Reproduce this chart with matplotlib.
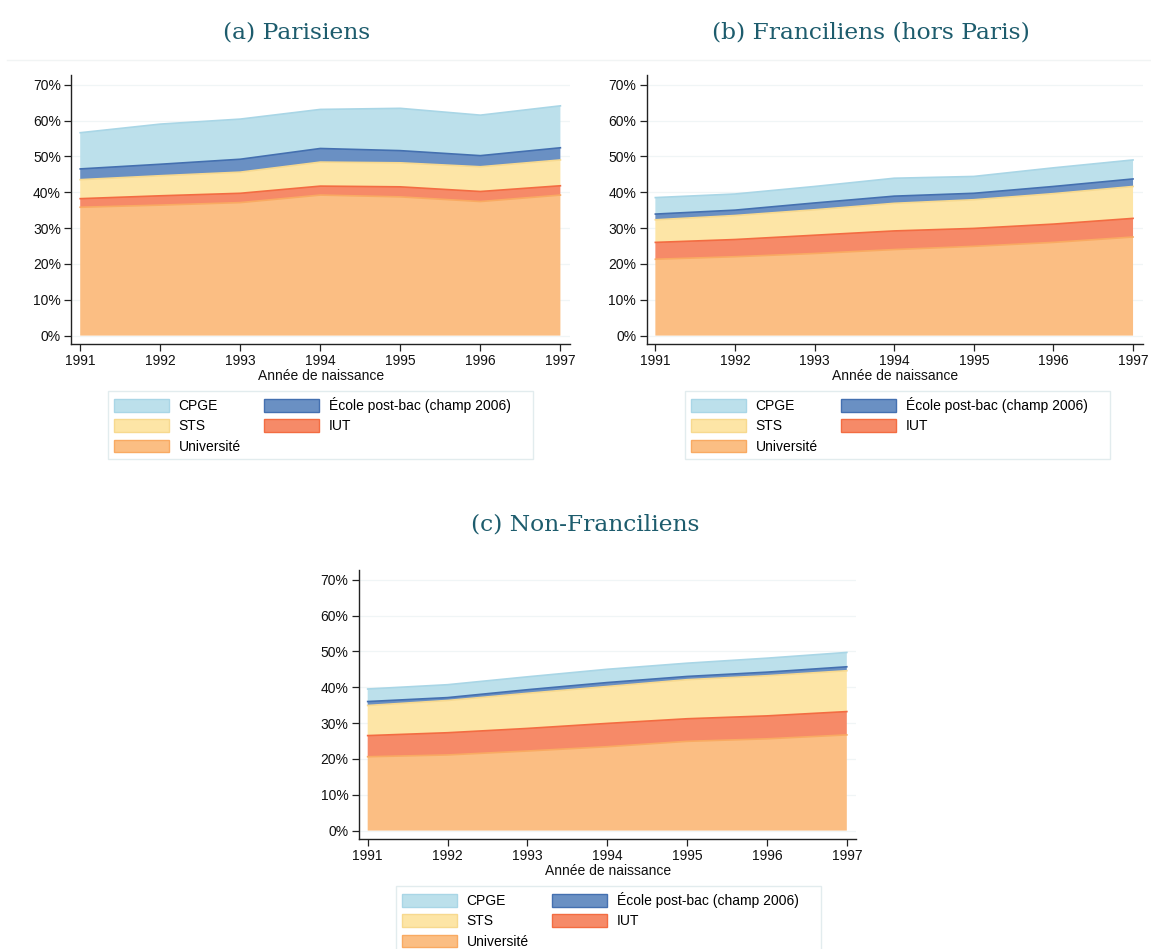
import matplotlib
matplotlib.use("Agg")
import matplotlib.pyplot as plt
from matplotlib.patches import Patch, Rectangle
from matplotlib.lines import Line2D

# ---------------- data (shares in %, stacked bottom -> top) ----------------
years = [1991, 1992, 1993, 1994, 1995, 1996, 1997]
yticks = [0, 10, 20, 30, 40, 50, 60, 70]
ytick_labels = ["0%", "10%", "20%", "30%", "40%", "50%", "60%", "70%"]

# (a) Parisiens
paris_univ = [35.8, 36.4, 37.1, 39.2, 38.7, 37.4, 39.2]
paris_iut = [2.4, 2.6, 2.6, 2.5, 2.8, 2.8, 2.6]
paris_sts = [5.3, 5.6, 5.9, 6.7, 6.7, 6.9, 7.2]
paris_ecole = [3.0, 3.2, 3.6, 3.8, 3.4, 3.1, 3.4]
paris_cpge = [10.1, 11.2, 11.2, 10.9, 11.8, 11.3, 11.7]

# (b) Franciliens (hors Paris)
idf_univ = [21.3, 22.0, 22.9, 24.0, 24.9, 26.0, 27.5]
idf_iut = [4.7, 4.8, 5.1, 5.2, 5.0, 5.1, 5.2]
idf_sts = [6.3, 6.7, 7.1, 7.7, 8.0, 8.5, 8.9]
idf_ecole = [1.6, 1.5, 1.9, 2.0, 1.8, 2.0, 2.1]
idf_cpge = [4.6, 4.5, 4.6, 5.0, 4.7, 5.2, 5.3]

# (c) Non-Franciliens
prov_univ = [20.6, 21.1, 22.2, 23.4, 24.9, 25.6, 26.7]
prov_iut = [5.9, 6.2, 6.3, 6.5, 6.3, 6.4, 6.5]
prov_sts = [8.4, 9.0, 9.8, 10.3, 10.9, 11.2, 11.4]
prov_ecole = [1.1, 0.8, 1.0, 1.1, 0.9, 1.0, 1.1]
prov_cpge = [3.5, 3.6, 3.6, 3.7, 3.7, 3.9, 4.0]

series_labels = ["Université", "IUT", "STS", "École post-bac (champ 2006)", "CPGE"]
panel_titles = ["(a) Parisiens", "(b) Franciliens (hors Paris)", "(c) Non-Franciliens"]
xlabel = "Année de naissance"

# ---------------- style ----------------
fills = ["#FBBE83", "#F68A68", "#FDE5A6", "#6A90C3", "#BCE0EB"]
edges = ["#F9AA62", "#F36C42", "#F7D98F", "#4470B0", "#A9D6E6"]
title_color = "#1D5C6D"

W, H = 1151, 949
fig = plt.figure(figsize=(W / 100, H / 100), dpi=100)
fig.patch.set_facecolor("white")
plt.rcParams["font.family"] = ["Liberation Sans", "DejaVu Sans"]


def rect(left, top, right, bottom):
    return [left / W, 1 - bottom / H, (right - left) / W, (bottom - top) / H]


def draw_panel(box, data):
    ax = fig.add_axes(rect(*box))
    ax.stackplot(years, *data, colors=fills, edgecolor=None, linewidth=0, zorder=2)
    # outline of each band
    cum = [0.0] * len(years)
    for vals, ec in zip(data, edges):
        cum = [c + v for c, v in zip(cum, vals)]
        ax.plot(years, cum, color=ec, lw=1.2, zorder=3)
    ax.set_xlim(1990.89, 1997.12)
    ax.set_ylim(-2.35, 72.7)
    ax.set_xticks(years)
    ax.set_xticklabels([str(y) for y in years], fontsize=10)
    ax.set_yticks(yticks)
    ax.set_yticklabels(ytick_labels, fontsize=10)
    ax.yaxis.grid(True, color="#F0F5F6", lw=0.9, zorder=0)
    ax.set_axisbelow(True)
    for s in ["top", "right"]:
        ax.spines[s].set_visible(False)
    for s in ["left", "bottom"]:
        ax.spines[s].set_color("#222222")
        ax.spines[s].set_linewidth(1.0)
    ax.tick_params(axis="both", length=5, width=0.9, color="#222222", pad=2.5,
                   labelcolor="#111111")
    ax.set_xlabel(xlabel, fontsize=10, labelpad=0.5, color="#111111")
    return ax


panel_data = [
    [paris_univ, paris_iut, paris_sts, paris_ecole, paris_cpge],
    [idf_univ, idf_iut, idf_sts, idf_ecole, idf_cpge],
    [prov_univ, prov_iut, prov_sts, prov_ecole, prov_cpge],
]
boxes = [(71.4, 75, 570, 344), (646.6, 75, 1142.6, 344), (358.9, 570, 856.4, 839)]
title_pos = [(297, 32), (871, 32), (585, 525)]
legend_pos = [(108, 391), (685, 391), (396, 886)]
legend_size = (425, 68)

# faint separator line under top titles
fig.add_artist(Line2D([7 / W, 1.0], [1 - 60 / H, 1 - 60 / H], color="#F1F4F4", lw=1))

handles_order = [4, 2, 0, 3, 1]  # CPGE, STS, Université | École, IUT

for box, data, tpos, lpos, title in zip(boxes, panel_data, title_pos, legend_pos, panel_titles):
    draw_panel(box, data)
    fig.text(tpos[0] / W, 1 - tpos[1] / H, title, ha="center", va="center",
             fontsize=16.8, color=title_color, family="DejaVu Serif")
    # legend frame
    fig.add_artist(Rectangle((lpos[0] / W, 1 - (lpos[1] + legend_size[1]) / H),
                             legend_size[0] / W, legend_size[1] / H,
                             transform=fig.transFigure, facecolor="white",
                             edgecolor="#E2ECEE", lw=1.0, zorder=1))
    handles = [Patch(facecolor=fills[i], edgecolor=edges[i], linewidth=1.0,
                     label=series_labels[i]) for i in handles_order]
    leg = fig.legend(handles=handles, loc="upper left",
                     bbox_to_anchor=(lpos[0] / W, 1 - lpos[1] / H), bbox_transform=fig.transFigure,
                     ncol=2, fontsize=10, frameon=False,
                     handlelength=3.95, handleheight=1.05, handletextpad=0.72,
                     labelspacing=0.45, columnspacing=1.65, borderpad=0.42, borderaxespad=0)
    leg.set_zorder(2)

fig.savefig("out.png", dpi=100, facecolor="white")
